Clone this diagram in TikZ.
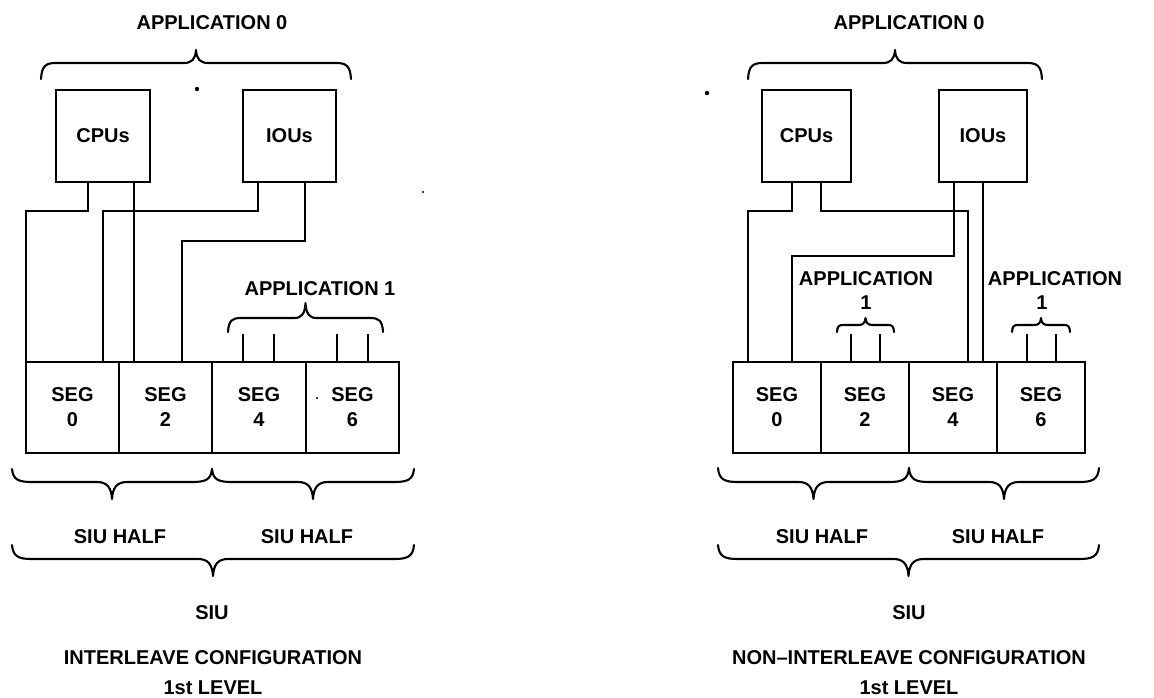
\documentclass[tikz,border=0pt]{standalone}
\usepackage{fontspec}
\setmainfont{Liberation Sans}
\usetikzlibrary{calc}
\tikzset{
  lbl/.style={font=\fontsize{20}{25}\selectfont\bfseries, inner sep=0pt, outer sep=0pt, align=center},
  unit/.style={lbl, draw, line width=2.4pt, minimum height=92pt},
  segbox/.style={lbl, draw, line width=2.2pt, minimum height=91pt},
  wire/.style={line width=1.3pt},
  brc/.style={line width=2.1pt, line cap=round, line join=round},
}
% x1, x2, yend, yline, ytip, end radius, tip half-width
\newcommand\mybrc[7]{%
  \pgfmathsetmacro\bxm{(#1+#2)/2}%
  \draw[brc] (#1,#3) .. controls ({#1+0.05*#6},{#4+0.15*(#3-#4)}) and ({#1+0.35*#6},#4) .. ({#1+#6},#4)
    -- ({\bxm-#7},#4) .. controls ({\bxm-0.35*#7},#4) and ({\bxm-0.05*#7},{#4+0.3*(#5-#4)}) .. (\bxm,#5)
    .. controls ({\bxm+0.05*#7},{#4+0.3*(#5-#4)}) and ({\bxm+0.35*#7},#4) .. ({\bxm+#7},#4)
    -- ({#2-#6},#4) .. controls ({#2-0.35*#6},#4) and ({#2-0.05*#6},{#4+0.15*(#3-#4)}) .. (#2,#3);}
\begin{document}
\begin{tikzpicture}[x=1pt,y=-1pt]
\path[use as bounding box, fill=white] (0,0) rectangle (1154,698);

% ================= LEFT: INTERLEAVE =================
\node[lbl] (app0L) at (212,23) {APPLICATION 0};
\mybrc{41}{351}{79}{63}{50}{15}{12}
\node[unit, minimum width=94pt] (cpuL) at (103,136) {CPUs};
\node[unit, minimum width=93pt] (iouL) at (289.5,136) {IOUs};

\node[segbox, minimum width=93pt] (s0L) at (72.5,407.5) {SEG\\0};
\node[segbox, minimum width=93pt] (s2L) at (165.5,407.5) {SEG\\2};
\node[segbox, minimum width=94pt] (s4L) at (259,407.5) {SEG\\4};
\node[segbox, minimum width=93pt] (s6L) at (352.5,407.5) {SEG\\6};

\coordinate (pL1) at ($(cpuL.south west)+(32,0)$);
\coordinate (pL2) at ($(cpuL.south west)+(78,0)$);
\coordinate (pL3) at ($(iouL.south west)+(15,0)$);
\coordinate (pL4) at ($(iouL.south west)+(62,0)$);
\coordinate (bL1) at (26,211);
\coordinate (bL3) at (103,211);
\coordinate (bL4) at (182,241);
\draw[wire] (pL1) |- (bL1) -- (bL1 |- s0L.north);
\draw[wire] (pL2) -- (pL2 |- s2L.north);
\draw[wire] (pL3) |- (bL3) -- (bL3 |- s0L.north);
\draw[wire] (pL4) |- (bL4) -- (bL4 |- s2L.north);

\node[lbl] (app1L) at (320,289) {APPLICATION 1};
\mybrc{228}{383}{332}{318}{303}{13}{11}
\coordinate (aL1) at (243,334);
\coordinate (aL2) at (274,334);
\coordinate (aL3) at (337,334);
\coordinate (aL4) at (368,334);
\draw[wire] (aL1) -- (aL1 |- s4L.north);
\draw[wire] (aL2) -- (aL2 |- s4L.north);
\draw[wire] (aL3) -- (aL3 |- s6L.north);
\draw[wire] (aL4) -- (aL4 |- s6L.north);

\mybrc{12}{212}{469}{482}{499}{20}{15}
\mybrc{212}{414}{469}{482}{499}{20}{15}
\node[lbl] (hL1) at (120,537) {SIU HALF};
\node[lbl] (hL2) at (307,537) {SIU HALF};
\mybrc{12}{414}{545}{559}{576}{20}{15}
\node[lbl] (siuL) at (212,613) {SIU};
\node[lbl] (cfgL) at (213,658) {INTERLEAVE CONFIGURATION};
\node[lbl] (lvlL) at (213,688) {1st LEVEL};

% ================= RIGHT: NON-INTERLEAVE =================
\node[lbl] (app0R) at (909,23) {APPLICATION 0};
\mybrc{748}{1042}{79}{63}{50}{15}{12}
\node[unit, minimum width=89pt] (cpuR) at (806.5,136) {CPUs};
\node[unit, minimum width=88pt] (iouR) at (983,136) {IOUs};

\node[segbox, minimum width=88pt] (s0R) at (777,407.5) {SEG\\0};
\node[segbox, minimum width=88pt] (s2R) at (865,407.5) {SEG\\2};
\node[segbox, minimum width=88pt] (s4R) at (953,407.5) {SEG\\4};
\node[segbox, minimum width=88pt] (s6R) at (1041,407.5) {SEG\\6};

\coordinate (pR1) at ($(cpuR.south west)+(30,0)$);
\coordinate (pR2) at ($(cpuR.south west)+(59,0)$);
\coordinate (pR3) at ($(iouR.south west)+(15,0)$);
\coordinate (pR4) at ($(iouR.south west)+(44,0)$);
\coordinate (bR1) at (748,211);
\coordinate (bR2) at (968,211);
\coordinate (bR3) at (792,256);
\draw[wire] (pR1) |- (bR1) -- (bR1 |- s0R.north);
\draw[wire] (pR2) |- (bR2) -- (bR2 |- s4R.north);
\draw[wire] (pR3) |- (bR3) -- (bR3 |- s0R.north);
\draw[wire] (pR4) -- (pR4 |- s4R.north);

\node[lbl] (app1Ra) at (866,279) {APPLICATION};
\node[lbl] (app1Rb) at (866,303) {1};
\mybrc{837}{894}{332}{325}{318}{6}{7}
\node[lbl] (app1Rc) at (1055,279) {APPLICATION};
\node[lbl] (app1Rd) at (1042,303) {1};
\mybrc{1012}{1070}{332}{325}{318}{6}{7}
\coordinate (aR1) at (851,334);
\coordinate (aR2) at (880,334);
\coordinate (aR3) at (1027,334);
\coordinate (aR4) at (1056,334);
\draw[wire] (aR1) -- (aR1 |- s2R.north);
\draw[wire] (aR2) -- (aR2 |- s2R.north);
\draw[wire] (aR3) -- (aR3 |- s6R.north);
\draw[wire] (aR4) -- (aR4 |- s6R.north);

\mybrc{718}{909}{468}{482}{499}{20}{15}
\mybrc{909}{1099}{468}{482}{499}{20}{15}
\node[lbl] (hR1) at (822,537) {SIU HALF};
\node[lbl] (hR2) at (998,537) {SIU HALF};
\mybrc{718}{1099}{545}{559}{576}{20}{15}
\node[lbl] (siuR) at (909,613) {SIU};
\node[lbl] (cfgR) at (909,658) {NON--INTERLEAVE CONFIGURATION};
\node[lbl] (lvlR) at (909,688) {1st LEVEL};

% scan specks
\fill (197,89) circle (2.2pt);
\fill (707,93) circle (2.2pt);
\fill (423,192) circle (1.2pt);
\fill (317,398) circle (1.2pt);
\end{tikzpicture}
\end{document}
